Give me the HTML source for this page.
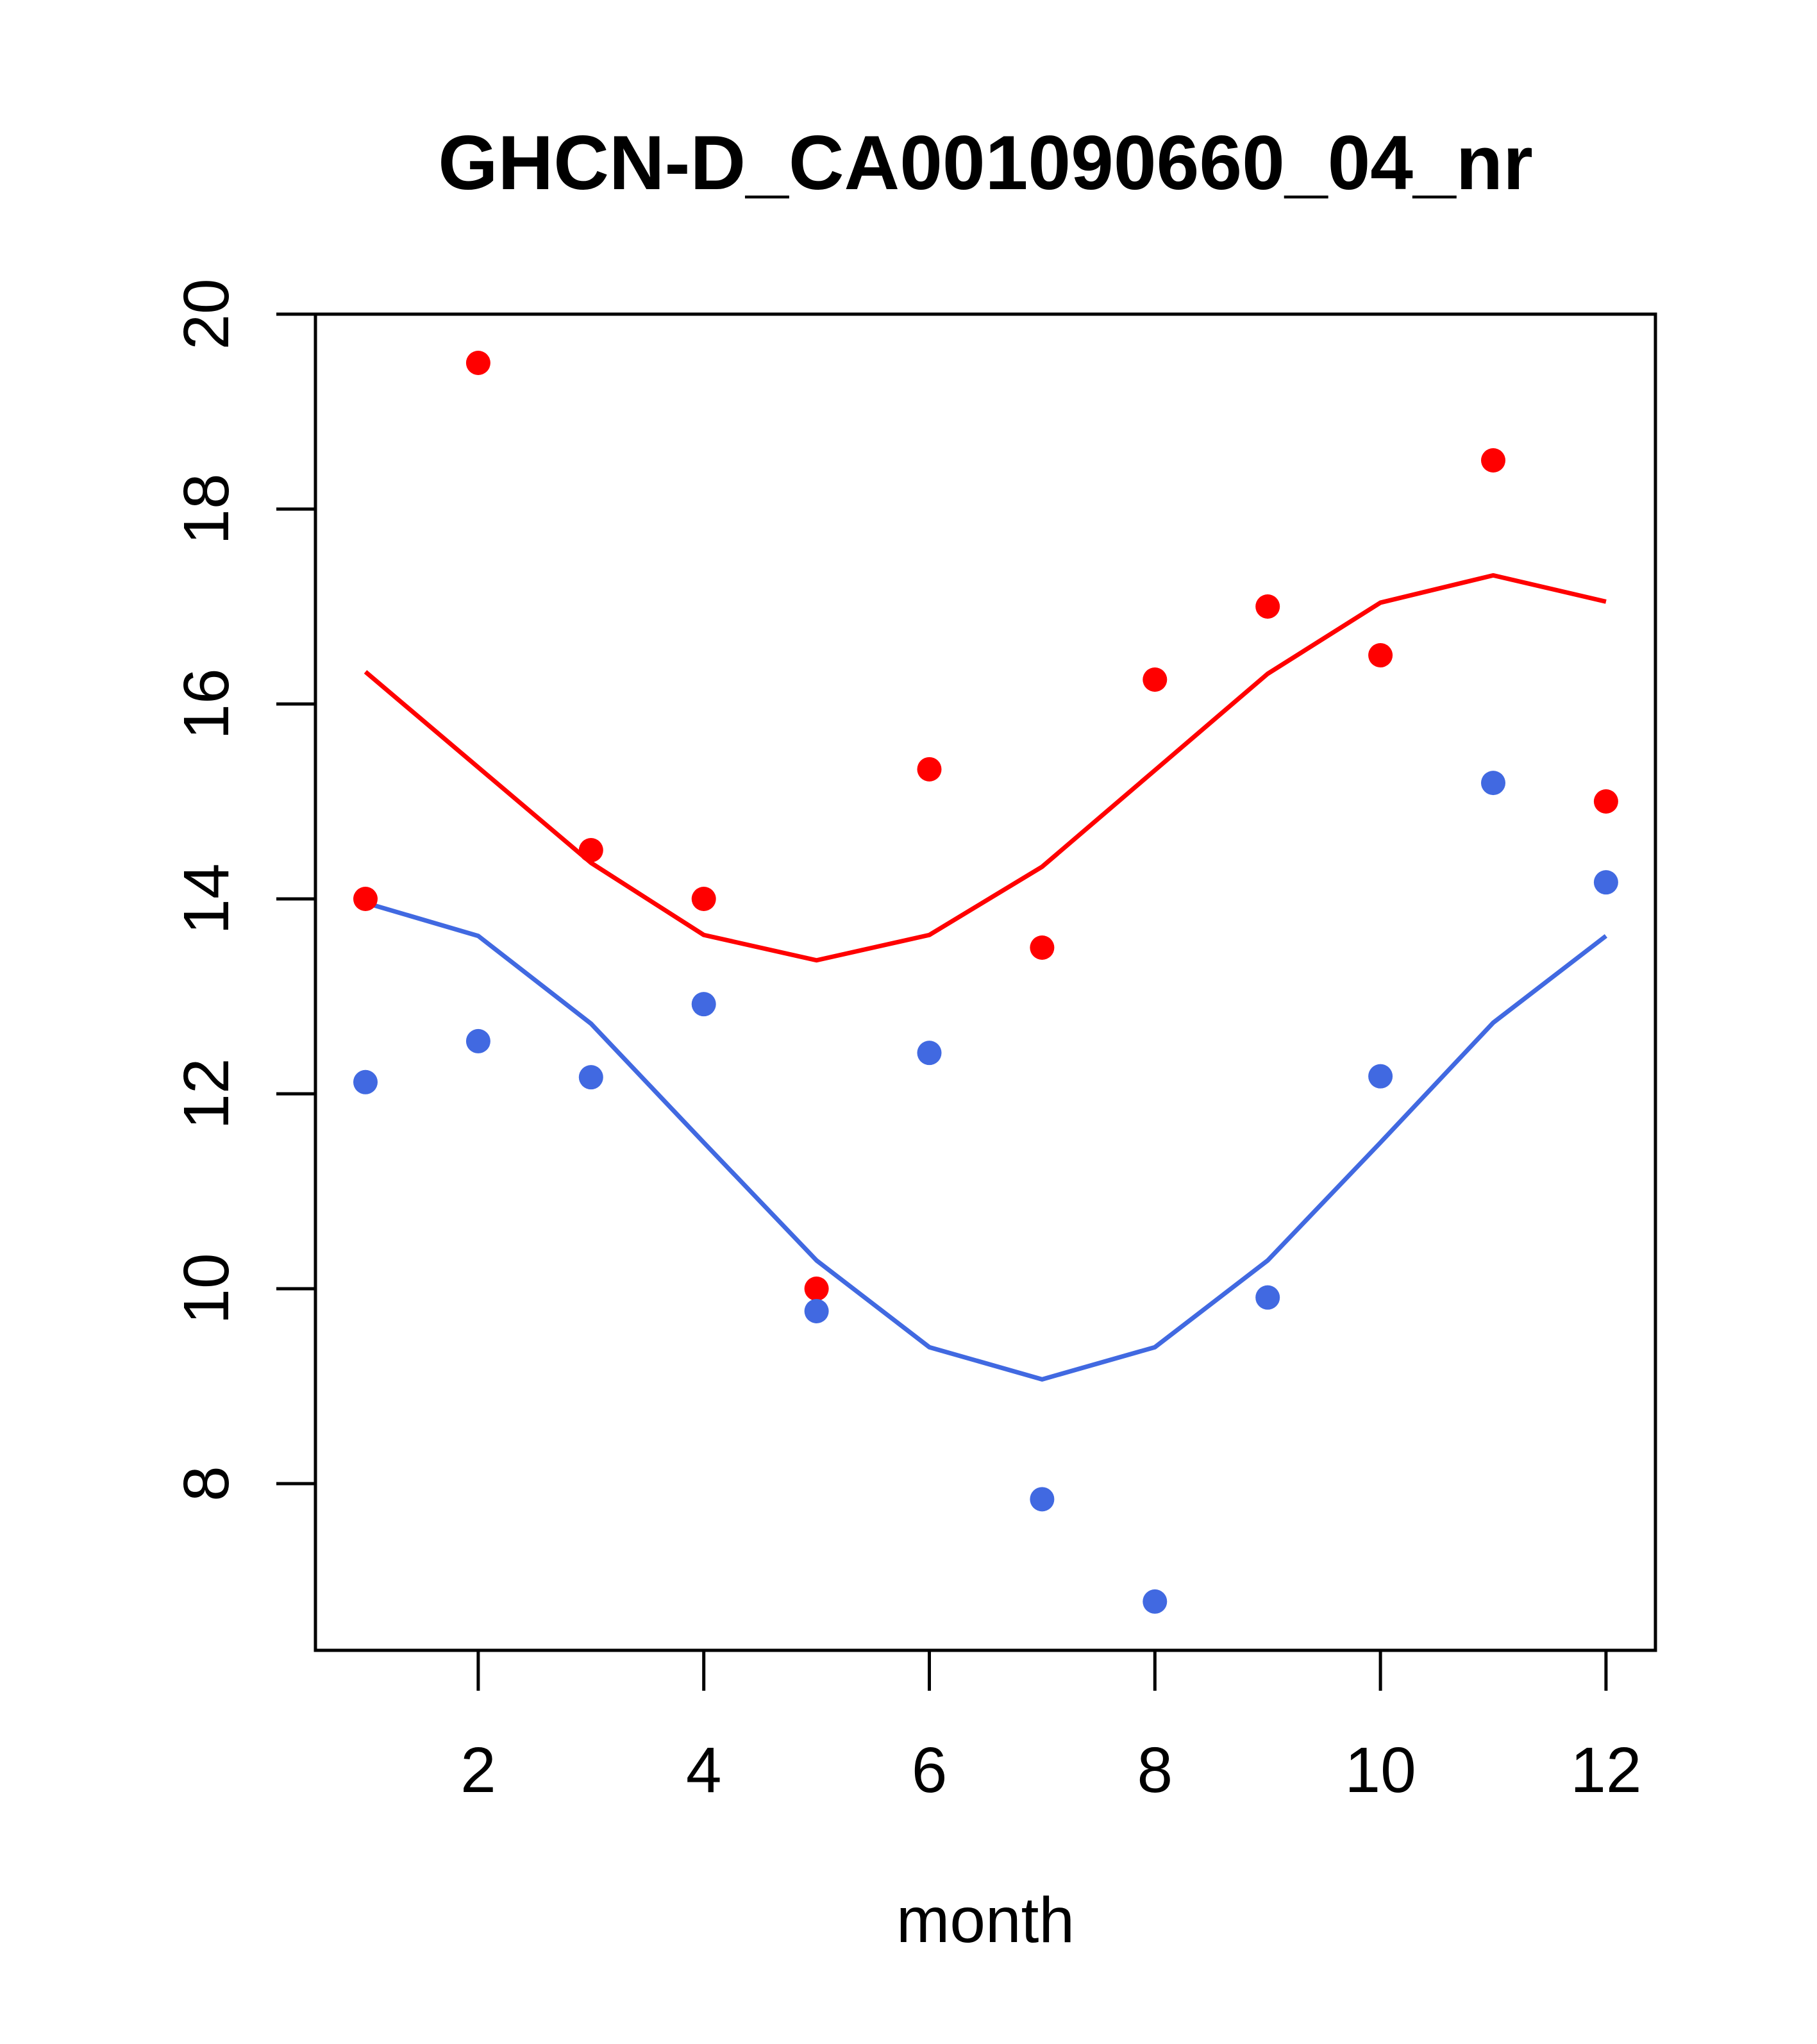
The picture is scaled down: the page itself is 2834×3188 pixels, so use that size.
<!DOCTYPE html>
<html><head><meta charset="utf-8"><style>
html,body{margin:0;padding:0;background:#fff;}
svg{display:block;font-family:"Liberation Sans",Arial,sans-serif;}
</style></head><body>
<svg id="chart" width="2834" height="3188" viewBox="0 0 2834 3188" xmlns="http://www.w3.org/2000/svg">
<rect width="2834" height="3188" fill="#fff"/>
<text x="1537" y="295" font-size="120" font-weight="bold" text-anchor="middle">GHCN-D_CA001090660_04_nr</text>
<text x="1537" y="3029" font-size="100" text-anchor="middle">month</text>
<g id="axes"></g>
<g id="marks"></g>
<rect x="492" y="490" width="2090" height="2084" fill="none" stroke="#000" stroke-width="5"/>
</svg>
<script>
const months = [1,2,3,4,5,6,7,8,9,10,11,12];
const redPoints = [14, 19.5, 14.5, 14, 10, 15.33, 13.5, 16.25, 17, 16.5, 18.5, 15];
const redLine = [16.33, 15.35, 14.37, 13.63, 13.37, 13.63, 14.33, 15.32, 16.31, 17.04, 17.32, 17.05];
const bluePoints = [12.12, 12.54, 12.17, 12.92, 9.77, 12.42, 7.84, 6.79, 9.91, 12.18, 15.19, 14.17];
const blueLine = [13.96, 13.62, 12.72, 11.5, 10.29, 9.4, 9.07, 9.4, 10.29, 11.5, 12.73, 13.62];
const xTicks = [2,4,6,8,10,12];
const yTicks = [8,10,12,14,16,18,20];

const NS = "http://www.w3.org/2000/svg";
const xs = m => 570 + (m - 1) * 175.9;
const ys = v => 490 + (20 - v) * 152;
const axes = document.getElementById('axes');
const marks = document.getElementById('marks');
function mk(tag, attrs, parent){const e=document.createElementNS(NS,tag);for(const k in attrs)e.setAttribute(k,attrs[k]);parent.appendChild(e);return e;}

xTicks.forEach(t=>{
  const l=mk('line',{x1:xs(t),x2:xs(t),y1:2574,y2:2637,stroke:'#000','stroke-width':5},axes);
  
  
  const tx=mk('text',{x:xs(t),y:2795,'font-size':100,'text-anchor':'middle'},axes);
  tx.textContent=t;
  
  
});
yTicks.forEach(t=>{
  const l=mk('line',{x1:431,x2:492,y1:ys(t),y2:ys(t),stroke:'#000','stroke-width':5},axes);
  
  
  const tx=mk('text',{x:356,y:ys(t),'font-size':100,'text-anchor':'middle',transform:`rotate(-90 356 ${ys(t)})`},axes);
  tx.textContent=t;
  
  
});

function line(vals,color,name){
  const p=mk('polyline',{points:vals.map((v,i)=>xs(months[i])+','+ys(v)).join(' '),fill:'none',stroke:color,'stroke-width':7,'stroke-linejoin':'round'},marks);
  
  
}
function pts(vals,color,name){
  vals.forEach((v,i)=>{
    const c=mk('circle',{cx:xs(months[i]),cy:ys(v),r:19,fill:color},marks);
    
    
  });
}
line(redLine,'#ff0000','red-smooth-line');
line(blueLine,'#4169e1','blue-smooth-line');
pts(redPoints,'#ff0000','red-point');
pts(bluePoints,'#4169e1','blue-point');
</script>
</body></html>
